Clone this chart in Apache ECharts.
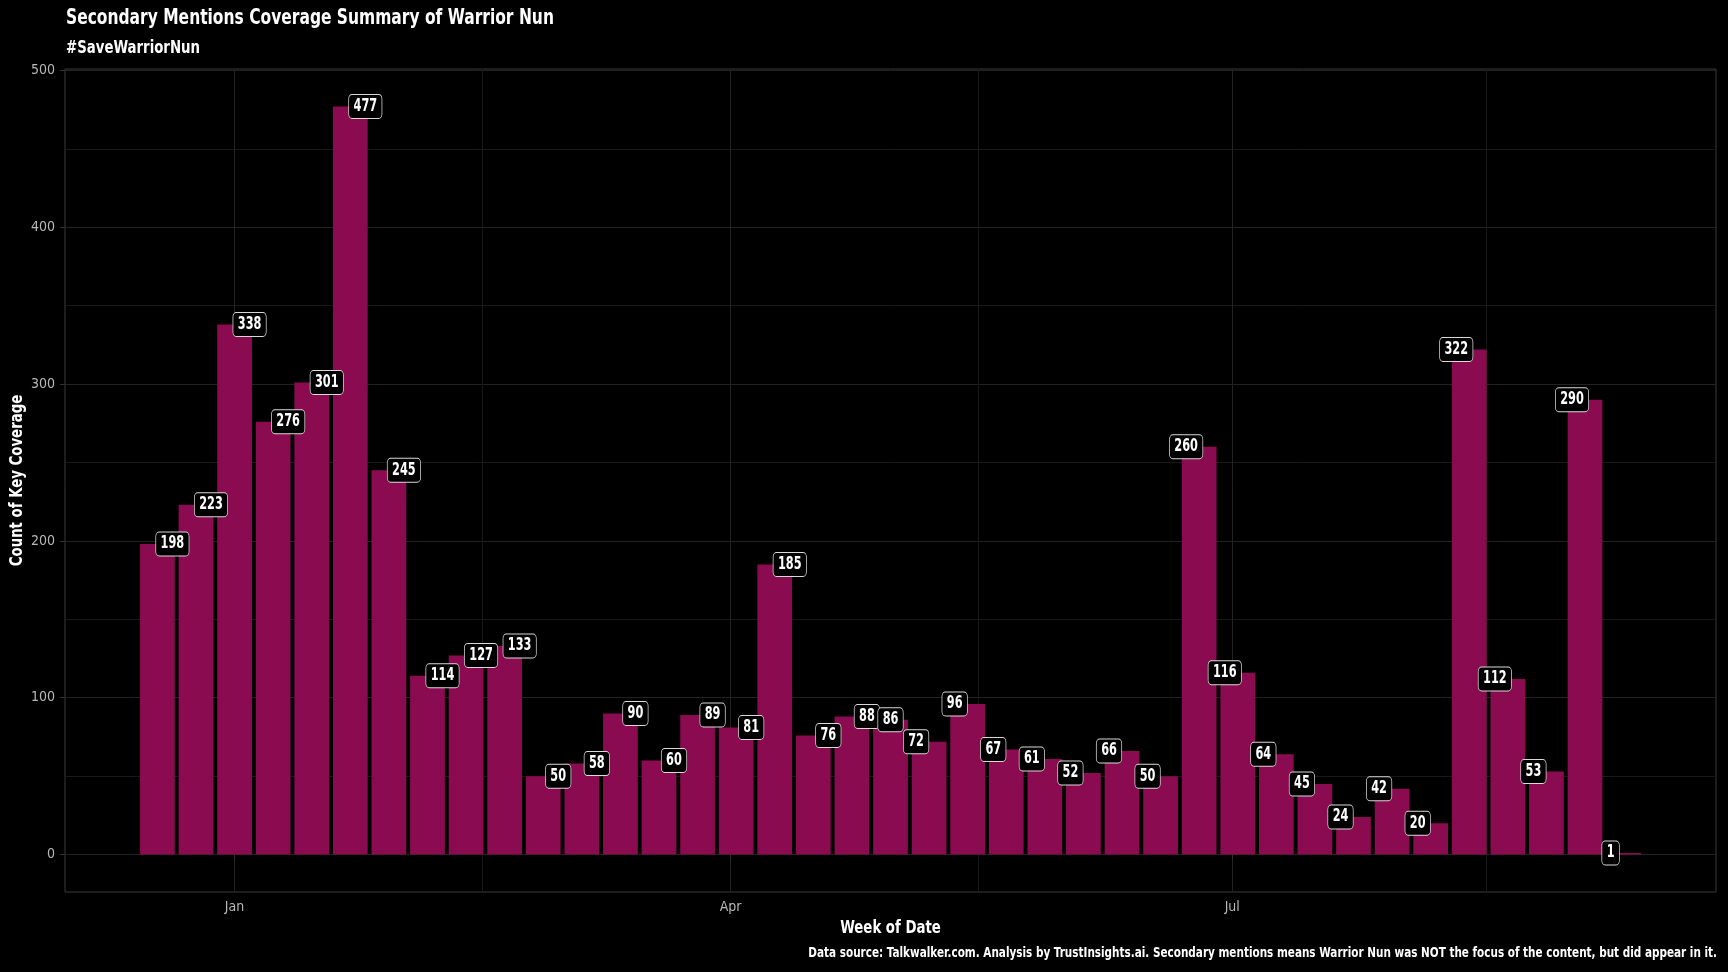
<!DOCTYPE html>
<html><head><meta charset="utf-8">
<script src="https://cdn.jsdelivr.net/npm/echarts@6/dist/echarts.min.js"></script>
<style>html,body{margin:0;padding:0;background:#000;}#c{width:1728px;height:972px;}</style>
</head><body><div id="c"></div>
<script>
// ---- data ----
const weeks = ['2022-12-18','2022-12-25','2023-01-01','2023-01-08','2023-01-15','2023-01-22','2023-01-29',
  '2023-02-05','2023-02-12','2023-02-19','2023-02-26','2023-03-05','2023-03-12','2023-03-19','2023-03-26',
  '2023-04-02','2023-04-09','2023-04-16','2023-04-23','2023-04-30','2023-05-07','2023-05-14','2023-05-21',
  '2023-05-28','2023-06-04','2023-06-11','2023-06-18','2023-06-25','2023-07-02','2023-07-09','2023-07-16',
  '2023-07-23','2023-07-30','2023-08-06','2023-08-13','2023-08-20','2023-08-27','2023-09-03','2023-09-10'];
const coverage = [198,223,338,276,301,477,245,114,127,133,50,58,90,60,89,81,185,76,88,86,72,96,67,61,52,66,50,260,116,64,45,24,42,20,322,112,53,290,1];
const xTickDates = ['2023-01-01','2023-04-01','2023-07-01'];
const xTickLabels = ['Jan','Apr','Jul'];
const xMinorDates = ['2023-02-15','2023-05-16','2023-08-16'];
const yTicks = [0,100,200,300,400,500];

const titleText = 'Secondary Mentions Coverage Summary of Warrior Nun';
const subtitleText = '#SaveWarriorNun';
const captionText = 'Data source: Talkwalker.com. Analysis by TrustInsights.ai. Secondary mentions means Warrior Nun was NOT the focus of the content, but did appear in it.';
const xTitle = 'Week of Date';
const yTitle = 'Count of Key Coverage';

// ---- helpers ----
const FAM = '"DejaVu Sans Condensed", "Liberation Sans Narrow", sans-serif';
const DAY = 864e5;
const ts = s => { const [y,m,d] = s.split('-').map(Number); return Date.UTC(y, m-1, d); };
const weekTs = weeks.map(ts);
const tickTs = xTickDates.map(ts);
const minorTs = xMinorDates.map(ts);

// ggplot-like expansion: bar width 0.9*7 days, plus 5% each side
const halfBar = 0.45 * 7 * DAY;
const dataMin = weekTs[0] - halfBar, dataMax = weekTs[weekTs.length-1] + halfBar;
const span = dataMax - dataMin;
const xMin = dataMin - 0.05 * span, xMax = dataMax + 0.05 * span;
const yMaxVal = Math.max(...coverage);
const yMin = -0.05 * yMaxVal;
const yMax = Math.max(500, yMaxVal * 1.05);

const G = { left: 65, right: 12, top: 69, bottom: 80 };
const W = 1728, H = 972;
const panelCx = G.left + (W - G.left - G.right) / 2;
const panelCy = G.top + (H - G.top - G.bottom) / 2;

const barData = weekTs.map((t, i) => [t, coverage[i]]);
const labelDx = i => (i < 19 ? 15 : (i === 19 ? 0 : -13));

const txt = (text, x, y, size, sx, align, vAlign, extra) => Object.assign({
  type: 'text', x, y, scaleX: sx, silent: true, z: 10,
  style: { text, fill: '#fff', font: 'bold ' + size + 'px ' + FAM, align, verticalAlign: vAlign }
}, extra || {});

const gridColor = '#222222';
const chart = echarts.init(document.getElementById('c'));
chart.setOption({
  backgroundColor: '#000',
  animation: false,
  graphic: [
    txt(titleText, 66, 19, 21, 0.82, 'left', 'middle'),
    txt(subtitleText, 66, 49, 17, 0.87, 'left', 'middle'),
    txt(captionText, 1717, 953, 13.5, 0.86, 'right', 'middle'),
    txt(xTitle, panelCx, 929, 17, 0.87, 'center', 'middle'),
    txt(yTitle, 18, panelCy, 17, 0.87, 'center', 'middle', { rotation: Math.PI / 2 })
  ],
  grid: Object.assign({ show: true, borderColor: '#3a3a3a', borderWidth: 1, backgroundColor: 'transparent', containLabel: false, outerBoundsMode: 'none' }, G),
  xAxis: [{
    type: 'value', min: xMin, max: xMax, scale: true,
    axisLine: { show: false },
    axisTick: { show: true, length: 5, customValues: tickTs, lineStyle: { color: '#333' } },
    axisLabel: { show: true, customValues: tickTs, margin: 8, color: '#b8b8b8', fontFamily: FAM, fontSize: 14,
      formatter: v => { const k = tickTs.indexOf(v); return k >= 0 ? xTickLabels[k] : ''; } },
    splitLine: { show: true, lineStyle: { color: gridColor, width: 1 } }
  }, {
    type: 'value', min: xMin, max: xMax, scale: true, position: 'bottom',
    axisLine: { show: false }, axisLabel: { show: false },
    axisTick: { show: false, customValues: minorTs },
    splitLine: { show: true, lineStyle: { color: '#191919', width: 1 } }
  }],
  yAxis: {
    type: 'value', min: yMin, max: yMax,
    axisLine: { show: false },
    axisTick: { show: true, length: 5, customValues: yTicks, lineStyle: { color: '#333' } },
    axisLabel: { customValues: yTicks, margin: 10, color: '#b8b8b8', fontFamily: FAM, fontSize: 14 },
    splitLine: { show: true, lineStyle: { color: gridColor, width: 1 } },
    minorTick: { show: false, splitNumber: 2 },
    minorSplitLine: { show: true, lineStyle: { color: '#191919', width: 1 } }
  },
  series: [{
    type: 'bar', xAxisIndex: 0, data: barData, barWidth: '90%',
    itemStyle: { color: '#8B0B51' }
  }, {
    type: 'custom', xAxisIndex: 0, data: barData, z: 5,
    renderItem: (params, api) => {
      const i = params.dataIndex;
      const p = api.coord([api.value(0), api.value(1)]);
      return {
        type: 'text', x: p[0] + labelDx(i), y: p[1], scaleX: 0.74,
        style: {
          text: String(api.value(1)), fill: '#fff', font: 'bold 17px ' + FAM,
          align: 'center', verticalAlign: 'middle',
          backgroundColor: '#000', borderColor: '#d9d9d9', borderWidth: 1, borderRadius: 4,
          padding: [3, 6, 3, 6]
        }
      };
    }
  }]
});
</script></body></html>
